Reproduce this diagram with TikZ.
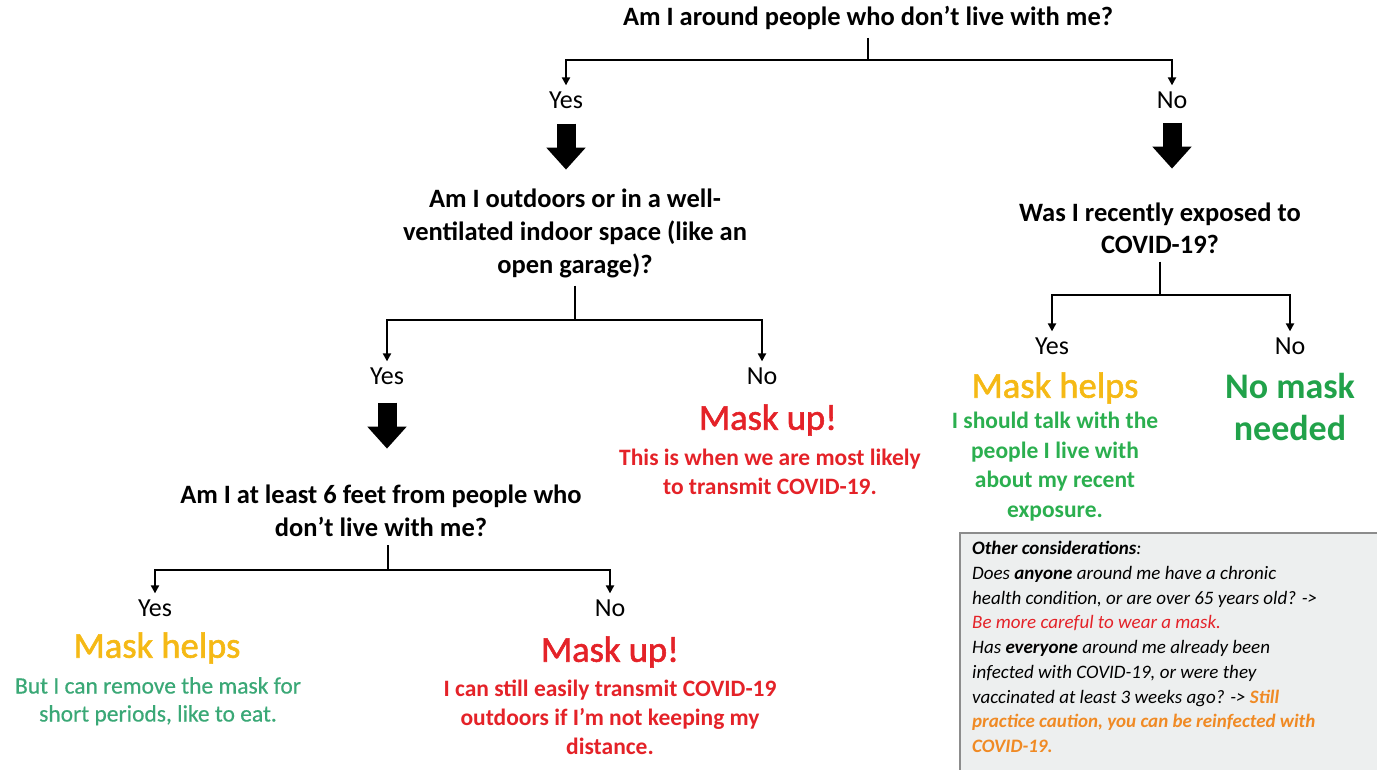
\documentclass[tikz,border=0pt]{standalone}
\usepackage{fontspec}
\setmainfont{Carlito}
\newfontfamily\semibfont[FakeBold=1.6]{Carlito}
\newfontfamily\medfont[FakeBold=0.5]{Carlito}
\usetikzlibrary{arrows.meta}
\definecolor{myyellow}{HTML}{F5B915}
\definecolor{myred}{HTML}{E42228}
\definecolor{mygreenA}{HTML}{3AA876}
\definecolor{mygreenB}{HTML}{2BAF4F}
\definecolor{mygreenC}{HTML}{21A24A}
\definecolor{myorange}{HTML}{F08A24}
\definecolor{boxfill}{HTML}{EDEFEF}
\definecolor{boxline}{HTML}{8C8C8C}
\tikzset{
  q/.style={font=\fontsize{26.5}{33}\selectfont\bfseries, align=center, inner sep=2pt},
  yn/.style={font=\fontsize{26}{30}\selectfont, inner sep=2pt},
  big/.style={font=\semibfont\fontsize{36.5}{40}\selectfont, inner sep=1pt},
  redsub/.style={font=\fontsize{23.5}{29}\selectfont\bfseries, text=myred, align=center, inner sep=1pt},
  fork/.style={draw=black, line width=2.2pt},
  tip/.style={fork, -{Triangle[length=8pt,width=8pt]}, shorten >=4pt},
  blk/.style={draw=black, line width=19pt, -{Triangle[length=22pt,width=38pt]}}
}
\begin{document}
\begin{tikzpicture}[x=1pt,y=-1pt]
\useasboundingbox (0,0) rectangle (1377,769);
% top level
\node[q] (q1) at (868,18) {Am I around people who don’t live with me?};
\node[yn] (y1) at (566,100) {Yes};
\node[yn] (n1) at (1172,100) {No};
\coordinate (b1) at (868,60);
\draw[fork] ([yshift=-6pt]q1.south) -- (b1);
\draw[tip] (b1) -| (y1.north);
\draw[tip] (b1) -| (n1.north);
% left branch
\node[q] (q2) at (575,233) {Am I outdoors or in a well-\\ventilated indoor space (like an\\open garage)?};
\draw[blk] ([yshift=-13pt]y1.south) -- ++(0,46);
\node[yn] (y2) at (387,376) {Yes};
\node[yn] (n2) at (762,376) {No};
\coordinate (b2) at (575,320);
\draw[fork] ([yshift=-6pt]q2.south) -- (b2);
\draw[tip] (b2) -| (y2.north);
\draw[tip] (b2) -| (n2.north);
\node[big, text=myred] (m2) at (768,420) {Mask up!};
\node[redsub, anchor=north] (r2) at (770,448) {This is when we are most likely\\to transmit COVID-19.};
\node[q] (q3) at (381,511) {Am I at least 6 feet from people who\\don’t live with me?};
\draw[blk] ([yshift=-16pt]y2.south) -- ++(0,46);
\node[yn] (y3) at (155,608) {Yes};
\node[yn] (n3) at (610,608) {No};
\coordinate (b3) at (388,570);
\draw[fork] ([yshift=-6pt]q3.south -| b3) -- (b3);
\draw[tip] (b3) -| (y3.north);
\draw[tip] (b3) -| (n3.north);
\node[big, text=myyellow] (h3) at (157,648) {Mask helps};
\node[font=\medfont\fontsize{23.5}{28}\selectfont, text=mygreenA, align=center, inner sep=1pt, anchor=north] (g3) at (158,676) {But I can remove the mask for\\short periods, like to eat.};
\node[big, text=myred] (m3) at (610,652) {Mask up!};
\node[redsub, anchor=north] (r3) at (610,679) {I can still easily transmit COVID-19\\outdoors if I’m not keeping my\\distance.};
% right branch
\node[q, font=\fontsize{26.5}{32}\selectfont\bfseries] (q4) at (1160,228) {Was I recently exposed to\\COVID-19?};
\draw[blk] ([yshift=-12pt]n1.south) -- ++(0,46);
\node[yn] (y4) at (1052,346) {Yes};
\node[yn] (n4) at (1290,346) {No};
\coordinate (b4) at (1160,295);
\draw[fork] ([yshift=-6pt]q4.south -| b4) -- (b4);
\draw[tip] (b4) -| (y4.north);
\draw[tip] (b4) -| (n4.north);
\node[big, text=myyellow] (h4) at (1055,388) {Mask helps};
\node[font=\fontsize{23.5}{29.5}\selectfont\bfseries, text=mygreenB, align=center, inner sep=1pt, anchor=north] (g4) at (1055,411) {I should\ talk with the\\people\ I live with\\about\ my recent\\exposure.};
\node[font=\fontsize{36}{42}\selectfont\bfseries, text=mygreenC, align=center, inner sep=1pt] (nm4) at (1290,407) {No mask\\needed};
% other considerations
\draw[draw=boxline, fill=boxfill, line width=1.2pt] (960,533) rectangle (1395,785);
\node[anchor=north west, align=left, inner sep=0pt, font=\fontsize{19}{24.75}\selectfont\itshape] (oc) at (972,541) {%
\textbf{Other considerations}:\\
Does \textbf{anyone} around me have a chronic\\
health condition, or are over 65 years old? ->\\
\textcolor{myred}{Be more careful to wear a mask.}\\
Has \textbf{everyone} around me already been\\
infected with COVID-19, or were they\\
vaccinated at least 3 weeks ago? -> \textcolor{myorange}{\textbf{Still}}\\
\textcolor{myorange}{\textbf{practice caution, you can be reinfected with}}\\
\textcolor{myorange}{\textbf{COVID-19.}}};
\end{tikzpicture}
\end{document}
